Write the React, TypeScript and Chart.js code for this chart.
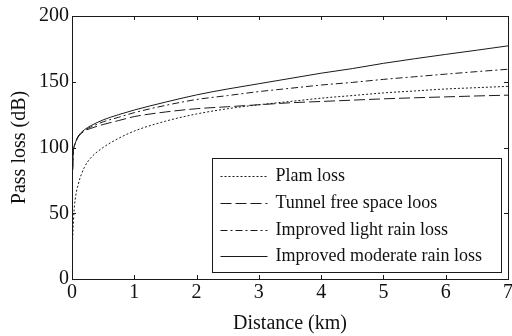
import React, { useEffect, useRef } from "react";
import { Chart, registerables } from "chart.js";

Chart.register(...registerables);

const distanceKm = [0.01, 0.02, 0.03, 0.05, 0.1, 0.2, 0.3, 0.5, 0.75, 1, 1.5, 2, 2.5, 3, 3.5, 4, 4.5, 5, 5.5, 6, 6.5, 7];
const plamLoss = [30, 40, 50, 60, 72, 85, 92, 100, 107, 112.5, 120, 125.5, 129.5, 132.5, 135, 137.5, 139.5, 141.5, 143, 144.5, 145.5, 146.5];
const tunnelFreeSpaceLoss = [83, 97, 100, 103, 108, 112.5, 114.5, 117.5, 120.5, 123.5, 127, 129.5, 131, 132.5, 134, 135, 136, 137, 137.8, 138.5, 139.2, 139.8];
const lightRainLoss = [83, 97, 100, 103, 108.5, 113, 115.5, 119.5, 123, 126.5, 132, 136.5, 139.5, 142.5, 145, 147.5, 149.5, 151.8, 153.8, 155.8, 157.7, 159.5];
const moderateRainLoss = [83, 97, 100, 103, 108.5, 113.5, 116.5, 121, 125, 128.5, 134.5, 140, 144.5, 148.5, 152.5, 156.5, 160, 164, 167.5, 170.8, 174, 177.3];

const seriesLabels = ["Plam loss", "Tunnel free space loos", "Improved light rain loss", "Improved moderate rain loss"];
const xTicks = [0, 1, 2, 3, 4, 5, 6, 7];
const yTicks = [0, 50, 100, 150, 200];

const FONT = "'Liberation Serif', serif";
const INK = "#1a1a1a";

const framePlugin = {
  id: "frameTicks",
  afterDatasetsDraw(chart: any) {
    const { ctx, chartArea: a, scales } = chart;
    ctx.save();
    ctx.strokeStyle = INK;
    ctx.lineWidth = 1;
    ctx.setLineDash([]);
    ctx.strokeRect(Math.round(a.left) + 0.5, Math.round(a.top) + 0.5, Math.round(a.right - a.left), Math.round(a.bottom - a.top));
    const L = 4;
    ctx.beginPath();
    xTicks.forEach((v) => {
      const px = Math.round(scales.x.getPixelForValue(v)) + 0.5;
      ctx.moveTo(px, a.bottom);
      ctx.lineTo(px, a.bottom - L);
      ctx.moveTo(px, a.top);
      ctx.lineTo(px, a.top + L);
    });
    yTicks.forEach((v) => {
      const py = Math.round(scales.y.getPixelForValue(v)) + 0.5;
      ctx.moveTo(a.left, py);
      ctx.lineTo(a.left + L, py);
      ctx.moveTo(a.right, py);
      ctx.lineTo(a.right - L, py);
    });
    ctx.stroke();

    // legend box
    const w = 289;
    const h = 114;
    const bx = Math.round(a.right - 7 - w) + 0.5;
    const by = Math.round(a.bottom - 7 - h) + 0.5;
    ctx.fillStyle = "#ffffff";
    ctx.fillRect(bx, by, w, h);
    ctx.strokeRect(bx, by, w, h);
    ctx.font = `18px ${FONT}`;
    ctx.textBaseline = "middle";
    ctx.textAlign = "left";
    chart.data.datasets.forEach((ds: any, i: number) => {
      const yy = Math.round(by + 17.5 + i * 26.8) + 0.5;
      ctx.beginPath();
      ctx.setLineDash(ds.borderDash || []);
      ctx.strokeStyle = ds.borderColor;
      ctx.lineWidth = ds.borderWidth;
      ctx.moveTo(bx + 8, yy);
      ctx.lineTo(bx + 55, yy);
      ctx.stroke();
      ctx.setLineDash([]);
      ctx.fillStyle = "#111";
      ctx.fillText(ds.label, bx + 63, yy);
    });
    ctx.restore();
  },
};

function toPoints(vals: number[]) {
  return distanceKm.map((x, i) => ({ x, y: vals[i] }));
}

export default function App() {
  const ref = useRef<HTMLCanvasElement>(null);
  useEffect(() => {
    if (!ref.current) return;
    Chart.defaults.font.family = FONT;
    const mk = (label: string, vals: number[], dash: number[]) => ({
      label,
      data: toPoints(vals),
      borderColor: INK,
      borderWidth: 1,
      borderDash: dash,
      pointRadius: 0,
      fill: false,
      cubicInterpolationMode: "monotone" as const,
    });
    const chart = new Chart(ref.current, {
      type: "line",
      data: {
        datasets: [
          mk(seriesLabels[0], plamLoss, [2, 2]),
          mk(seriesLabels[1], tunnelFreeSpaceLoss, [11, 4]),
          mk(seriesLabels[2], lightRainLoss, [7, 3, 2, 3]),
          mk(seriesLabels[3], moderateRainLoss, []),
        ],
      },
      options: {
        animation: false,
        responsive: false,
        layout: { padding: { top: 16, right: 4, left: 0, bottom: 0 } },
        plugins: { legend: { display: false }, tooltip: { enabled: false } },
        scales: {
          x: {
            type: "linear",
            min: 0,
            max: 7,
            grid: { display: false, drawTicks: false },
            border: { display: false },
            afterBuildTicks: (s: any) => {
              s.ticks = xTicks.map((v) => ({ value: v }));
            },
            afterFit: (s: any) => {
              s.height = 57;
              s.paddingLeft = 0;
              s.paddingRight = 0;
            },
            ticks: { color: "#111", font: { family: FONT, size: 20 }, padding: 2, maxRotation: 0, autoSkip: false },
            title: { display: true, text: "Distance (km)", color: "#111", font: { family: FONT, size: 20 }, padding: { top: 0, bottom: 0 } },
          },
          y: {
            type: "linear",
            min: 0,
            max: 200,
            grid: { display: false, drawTicks: false },
            border: { display: false },
            afterBuildTicks: (s: any) => {
              s.ticks = yTicks.map((v) => ({ value: v }));
            },
            afterFit: (s: any) => {
              s.width = 72;
              s.paddingTop = 0;
              s.paddingBottom = 0;
            },
            ticks: { color: "#111", font: { family: FONT, size: 20 }, padding: 3 },
            title: { display: true, text: "Pass loss (dB)", color: "#111", font: { family: FONT, size: 20 }, padding: { top: 8, bottom: 0 } },
          },
        },
      },
      plugins: [framePlugin],
    });
    let alive = true;
    if ((document as any).fonts && (document as any).fonts.load) {
      Promise.all([
        (document as any).fonts.load("20px 'Liberation Serif'"),
        (document as any).fonts.load("18px 'Liberation Serif'"),
      ]).then(() => {
        if (alive) chart.update();
      });
    }
    return () => {
      alive = false;
      chart.destroy();
    };
  }, []);
  return (
    <div style={{ position: "fixed", left: 0, top: 0, width: 512, height: 336, background: "#fff" }}>
      <span
        aria-hidden="true"
        style={{ position: "absolute", left: 0, top: 0, fontFamily: "'Liberation Serif'", fontSize: 20, color: "transparent", pointerEvents: "none" }}
      >
        Pass loss
      </span>
      <canvas ref={ref} width={512} height={336} style={{ position: "absolute", left: 0, top: 0 }} />
    </div>
  );
}
